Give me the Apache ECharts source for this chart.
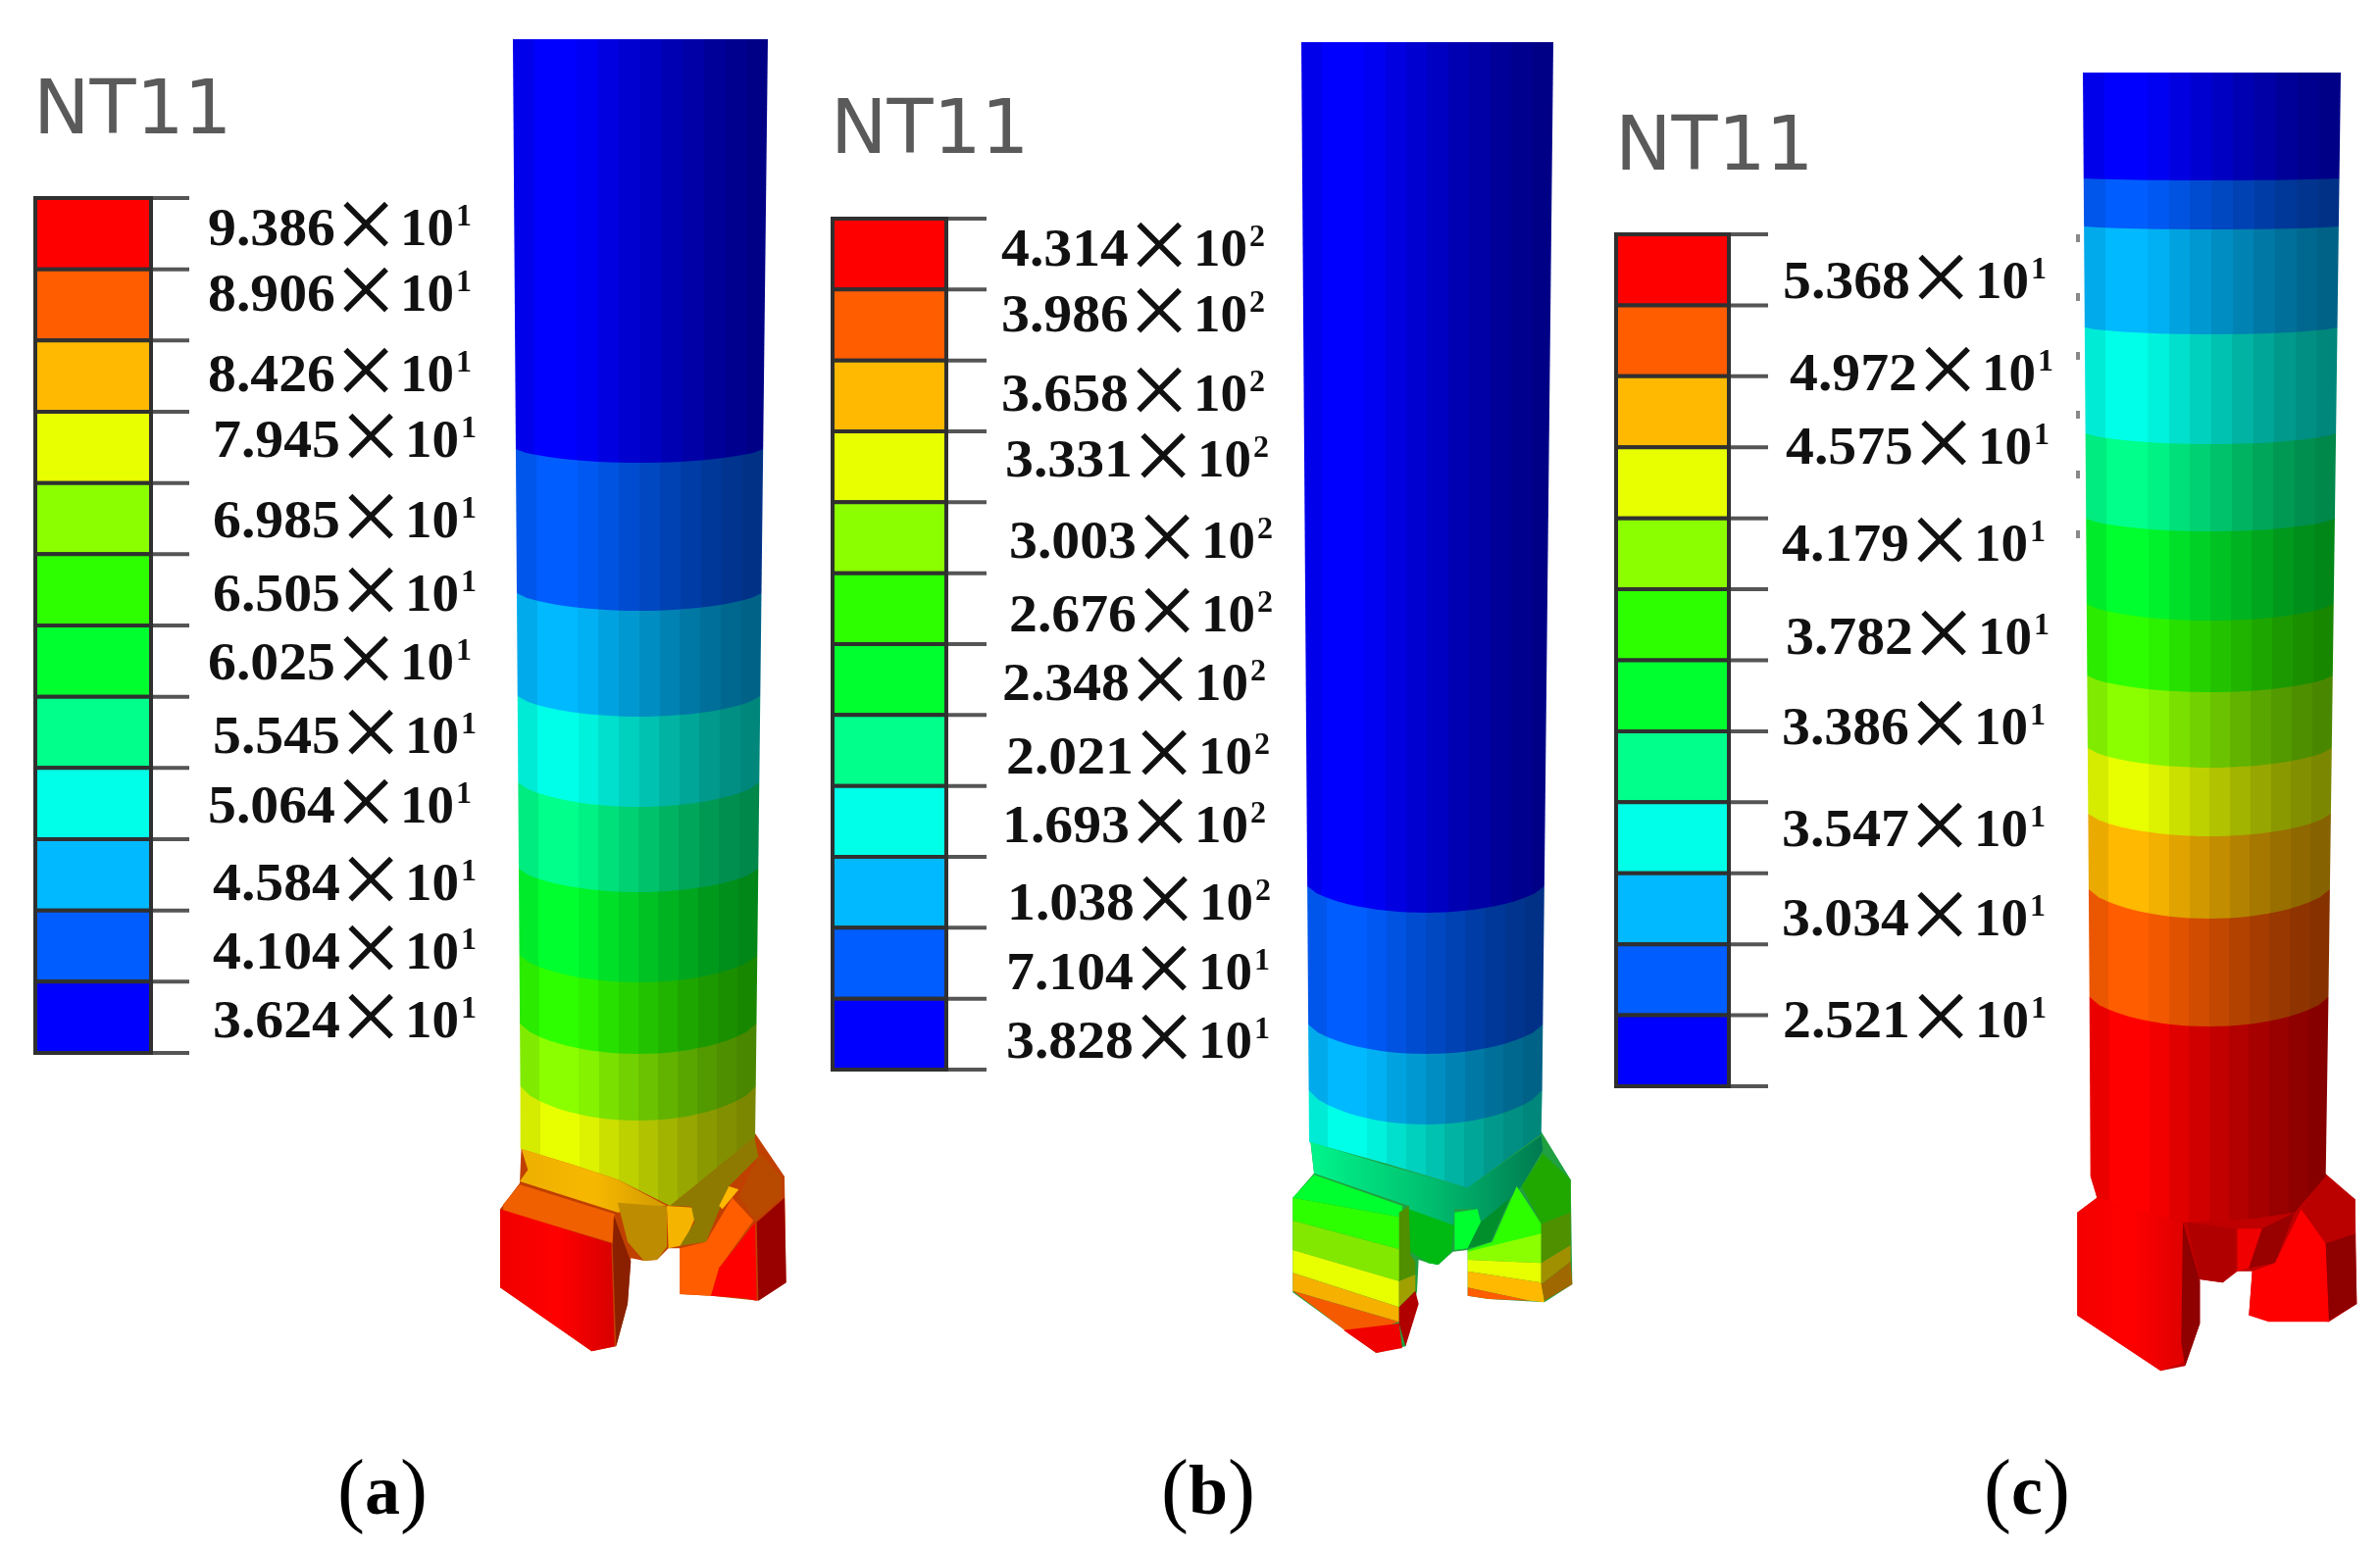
<!DOCTYPE html>
<html><head><meta charset="utf-8">
<script src="https://cdn.jsdelivr.net/npm/echarts@6/dist/echarts.min.js"></script>
<style>html,body{margin:0;background:#fff}#c{width:2427px;height:1580px;filter:blur(.7px)}</style></head>
<body><div id="c"></div>
<script>
// ---------- contour colours, hottest first ----------
const contourColors = ['#FF0000','#FF5D00','#FFB900','#E8FF00','#8BFF00','#2EFF00','#00FF2E','#00FF8B','#00FFE8','#00B9FF','#005DFF','#0000FF'];
// ---------- legend tick labels ----------
const mantissaA = ['9.386','8.906','8.426','7.945','6.985','6.505','6.025','5.545','5.064','4.584','4.104','3.624'];
const exponentA = ['1','1','1','1','1','1','1','1','1','1','1','1'];
const mantissaB = ['4.314','3.986','3.658','3.331','3.003','2.676','2.348','2.021','1.693','1.038','7.104','3.828'];
const exponentB = ['2','2','2','2','2','2','2','2','2','2','1','1'];
const mantissaC = ['5.368','4.972','4.575','4.179','3.782','3.386','3.547','3.034','2.521'];
const exponentC = ['1','1','1','1','1','1','1','1','1'];
const panelCaptions = ['a','b','c'];
const legendTitle = 'NT11';
// ---------- band boundaries read along each cylinder's left edge, top to bottom ----------
const bandEdgesA = [40,458,605,710,798,886,974,1044,1108];
const bandSagA   = [14,18,21,25,24,28,31,35];
const bandEdgesB = [43,904,1045,1112];
const bandSagB   = [27,30,35];
const bandEdgesC = [74,182,231,334,442,529,616,689,763,830,907,1017];
const bandSagC   = [2,3,7,11,13,17,17,20,23,30,30];

// ---------- layout (axis units equal page pixels) ----------
const legends = [
 {x0:36,x1:154,xt:193,top:202,bot:1074,tx:34,ty:116,man:mantissaA,exp:exponentA,
  lx:[212,212,212,217,217,217,212,217,212,217,217,217],
  ly:[236,303,385,452,534,609,679,754,825,904,974,1044]},
 {x0:849,x1:965,xt:1006,top:223,bot:1091,tx:847,ty:136,man:mantissaB,exp:exponentB,
  lx:[1021,1021,1021,1025,1029,1029,1022,1026,1022,1027,1026,1026],
  ly:[257,324,405,472,555,630,700,775,845,924,995,1065]},
 {x0:1648,x1:1763,xt:1803,top:239,bot:1108,tx:1647,ty:153,man:mantissaC,exp:exponentC,
  lx:[1818,1825,1821,1817,1821,1817,1817,1817,1818],
  ly:[290,384,459,558,653,745,849,940,1044]}
];
const cylinders = [
 {edges:bandEdgesA,sag:bandSagA,ytop:40,ybot:1170,l0:523,l1:531,r0:783,r1:770,first:11,
  origin:[480,1040],last:[[152,395],[300,440],[450,490],[610,570],[870,360]]},
 {edges:bandEdgesB,sag:bandSagB,ytop:43,ybot:1170,l0:1327,l1:1335,r0:1584,r1:1572,first:11,
  origin:[1280,1040],last:[[165,375],[400,440],[650,515],[875,350]]},
 {edges:bandEdgesC,sag:bandSagC,ytop:74,ybot:1200,l0:2124,l1:2132,r0:2387,r1:2372,first:11,
  origin:[2080,1040],last:[[155,480],[175,545],[300,590],[450,620],[650,610],[780,590],[875,480]]}
];
const underlays = [
 ['#C04000',[[90,580],[150,500],[155,385],[868,345],[960,480],[965,805],[880,860],[735,845],[640,840],[640,700],[605,700],[570,735],[530,738],[490,730],[480,870],[445,1000],[370,1015],[90,820]]],
 ['#20A040',[[115,545],[180,470],[168,365],[873,340],[965,490],[970,810],[885,865],[715,855],[650,845],[650,705],[605,710],[560,750],[530,745],[500,735],[495,830],[460,1000],[370,1020],[115,835]]],
 ['#C00000',[[115,590],[175,545],[158,470],[873,470],[965,550],[970,870],[885,925],[640,905],[650,770],[605,770],[560,805],[490,795],[490,930],[445,1060],[370,1075],[115,905]]]
];
const headA = [
 [['#EDB000','#F8B800','#D09A00'],[[155,395],[300,440],[450,490],[600,570],[450,590],[150,495],[175,460]]],
 ['#BD8C00',[[450,560],[600,572],[600,695],[570,735],[530,738],[480,680]]],
 ['#F5B400',[[600,570],[680,575],[685,610],[650,690],[605,700]]],
 ['#8E7A00',[[610,570],[868,360],[880,420],[790,510],[720,680],[640,692],[685,620],[675,572]]],
 ['#FFB900',[[790,510],[820,520],[770,580],[760,570]]],
 ['#F06000',[[100,565],[150,505],[440,595],[440,685],[100,585]]],
 [['#F00000','#FF0000','#D80000'],[[90,580],[430,685],[440,1000],[370,1015],[90,820]]],
 ['#8A2000',[[438,600],[490,740],[480,870],[445,1000],[434,690]]],
 ['#FF5D00',[[640,700],[720,680],[800,545],[865,615],[760,760],[735,845],[640,840]]],
 ['#FF0000',[[760,760],[870,620],[875,860],[835,852],[735,845]]],
 ['#990000',[[875,620],[960,545],[965,805],[880,860]]],
 ['#B84A00',[[820,540],[885,410],[950,480],[950,545],[870,615]]]
];
const headB = [
 [['#00F58A','#00C070','#007A50'],[[170,375],[400,445],[650,515],[875,355],[880,400],[815,510],[780,545],[720,680],[650,700],[690,620],[680,580],[610,580],[600,710],[560,750],[530,745],[480,700],[470,570],[180,470]]],
 ['#00BA14',[[470,580],[610,630],[600,710],[560,750],[530,745],[475,710]]],
 ['#00FF2E',[[610,590],[680,580],[690,620],[650,700],[610,705]]],
 ['#008F2A',[[690,620],[780,545],[720,680],[650,700]]],
 ['#00FF2E',[[115,545],[180,475],[450,570],[450,605]]],
 ['#2EFF00',[[115,545],[450,605],[450,705],[115,615]]],
 ['#82E800',[[115,615],[450,705],[440,800],[115,705]]],
 ['#E8FF00',[[115,705],[440,800],[440,880],[115,775]]],
 ['#F5B000',[[115,775],[440,880],[440,925],[115,830]]],
 ['#F55A00',[[115,830],[440,925],[410,935],[390,975],[280,955]]],
 ['#F00000',[[270,950],[440,930],[450,1005],[370,1020]]],
 ['#4F8F00',[[440,590],[470,570],[475,720],[490,740],[490,780],[440,800]]],
 ['#A0A000',[[440,800],[490,780],[490,830],[440,880]]],
 ['#B00000',[[440,880],[490,830],[500,870],[460,1000],[440,930]]],
 ['#2EFF00',[[650,705],[725,680],[800,510],[875,625],[875,670],[650,710]]],
 ['#8BFF00',[[650,710],[875,655],[875,745],[650,735]]],
 ['#E8FF00',[[650,735],[875,745],[875,805],[650,770]]],
 ['#FFB900',[[650,770],[875,805],[885,865],[840,860],[650,820]]],
 ['#FF5D00',[[650,820],[840,860],[715,855],[650,845]]],
 ['#20A800',[[815,510],[880,410],[965,490],[965,590],[875,625]]],
 ['#4F9000',[[875,625],[965,590],[965,690],[875,745]]],
 ['#A09000',[[875,745],[965,690],[965,740],[875,810]]],
 ['#A06800',[[875,810],[965,740],[970,810],[885,860]]]
];
const headC = [
 [['#F40000','#FF0000','#E00000'],[[115,590],[175,545],[440,620],[440,1050],[370,1075],[115,905]]],
 ['#8F0000',[[438,620],[490,800],[490,930],[445,1060],[433,990]]],
 ['#B00000',[[450,620],[600,640],[600,770],[560,805],[490,795]]],
 ['#F00000',[[605,640],[680,640],[680,700],[640,760],[605,770]]],
 ['#990000',[[680,640],[780,590],[720,745],[640,760]]],
 ['#FF0000',[[650,770],[720,745],[800,580],[875,685],[885,925],[700,925],[640,905]]],
 ['#8F0000',[[875,685],[965,655],[970,870],[885,920]]],
 ['#BB0000',[[800,580],[875,480],[965,550],[965,655],[875,685]]]
];
const heads = [headA,headB,headC];
const captionX = [390,1232,2067], captionY = 1525;
const facetShade = [.92,1,1,.95,.88,.82,.76,.7,.65,.6,.56,.53];
const specks = [[2119,243],[2119,303],[2119,363],[2119,423],[2119,484],[2119,545]];

// ---------- helpers ----------
function shadeHex(hex,f){
  const n=parseInt(hex.slice(1),16);
  return 'rgb('+[(n>>16)&255,(n>>8)&255,n&255].map(v=>Math.round(v*f)).join(',')+')';
}
function cylGradient(hex){
  const stops=[],n=facetShade.length;
  facetShade.forEach((f,i)=>{const c=shadeHex(hex,f);stops.push({offset:i/n,color:c},{offset:(i+1)/n,color:c});});
  return {type:'linear',x:0,y:0,x2:1,y2:0,colorStops:stops};
}
function facetFill(col){
  if(typeof col==='string')return col;
  return {type:'linear',x:0,y:0,x2:1,y2:0,colorStops:col.map((c,i)=>({offset:i/(col.length-1),color:c}))};
}
function customSeries(items,render){
  return {type:'custom',coordinateSystem:'cartesian2d',clip:false,silent:true,
    data:items.map((_,i)=>[i]),renderItem:(p,api)=>render(items[p.dataIndex],api)};
}
const poly=(pts,api,fill,extra)=>({type:'polygon',shape:{points:pts.map(q=>api.coord(q))},style:Object.assign({fill},extra||{})});

// ---------- cylinder bands: bottom band painted first, upper ones overlap ----------
const bandItems=[];
cylinders.forEach(c=>{
  const n=c.edges.length-1;
  const L=y=>c.l0+(c.l1-c.l0)*(y-c.ytop)/(c.ybot-c.ytop);
  const R=y=>c.r0+(c.r1-c.r0)*(y-c.ytop)/(c.ybot-c.ytop);
  const toData=q=>[c.origin[0]+q[0]/3,c.origin[1]+q[1]/3];
  const lastPts=c.last.map(toData);
  const lastTop=c.edges[n];
  bandItems.push({col:contourColors[c.first-n],pts:[[L(lastTop),lastTop],[R(lastTop),lastTop]].concat(lastPts.slice().reverse())});
  for(let i=n-1;i>=0;i--){
    const y0=c.edges[i],y1=c.edges[i+1],s=c.sag[i],pts=[[L(y0),y0],[R(y0),y0]];
    const K=24;
    for(let k=K;k>=0;k--){
      const x=L(y1)+(R(y1)-L(y1))*k/K,t=2*k/K-1;
      pts.push([x,y1+s*Math.pow(1-t*t,.7)]);
    }
    bandItems.push({col:contourColors[c.first-i],pts});
  }
});
// ---------- head facets ----------
const facetItems=[],underItems=[];
cylinders.forEach((c,ci)=>{
  const toData=q=>[c.origin[0]+q[0]/3,c.origin[1]+q[1]/3];
  underItems.push({col:underlays[ci][0],pts:underlays[ci][1].map(toData)});
  heads[ci].forEach(f=>facetItems.push({col:f[0],pts:f[1].map(toData)}));
});
// ---------- legend cells/ticks/labels ----------
const cellItems=[],tickItems=[],labelItems=[],titleItems=[];
legends.forEach(l=>{
  const st=(l.bot-l.top)/12;
  contourColors.forEach((col,i)=>cellItems.push({col,x0:l.x0,x1:l.x1,y0:l.top+i*st,y1:l.top+(i+1)*st}));
  for(let i=0;i<=12;i++)tickItems.push({x0:l.x1,x1:l.xt,y:l.top+i*st});
  l.man.forEach((m,i)=>labelItems.push({m,e:l.exp[i],x:l.lx[i],y:l.ly[i]}));
  titleItems.push({x:l.tx,y:l.ty});
});

const option={
  animation:false,backgroundColor:'#fff',
  grid:{left:0,right:0,top:0,bottom:0},
  xAxis:{type:'value',min:0,max:2427,show:false},
  yAxis:{type:'value',min:0,max:1580,inverse:true,show:false},
  series:[
    customSeries(underItems,(f,api)=>poly(f.pts,api,f.col)),
    customSeries(bandItems,(b,api)=>poly(b.pts,api,cylGradient(b.col))),
    customSeries(facetItems,(f,api)=>poly(f.pts,api,facetFill(f.col))),
    customSeries(tickItems,(t,api)=>{const a=api.coord([t.x0,t.y]),b=api.coord([t.x1,t.y]);
      return {type:'line',shape:{x1:a[0],y1:a[1],x2:b[0],y2:b[1]},style:{stroke:'#555',lineWidth:4}};}),
    customSeries(cellItems,(c,api)=>{const a=api.coord([c.x0,c.y0]),b=api.coord([c.x1,c.y1]);
      return {type:'rect',shape:{x:a[0],y:a[1],width:b[0]-a[0],height:b[1]-a[1]},style:{fill:c.col,stroke:'#303030',lineWidth:4}};}),
    customSeries(titleItems,(t,api)=>{const a=api.coord([t.x,t.y]);
      return {type:'text',x:a[0],y:a[1],style:{text:legendTitle,font:'77px "DejaVu Sans"',fill:'#5a5a5a',textAlign:'left',textVerticalAlign:'middle'}};}),
    customSeries(labelItems,(l,api)=>{const a=api.coord([l.x,l.y]);
      const tx=(text,dx,dy,font,align)=>({type:'text',x:a[0]+dx,y:a[1]+dy,style:{text,font,fill:'#111',textAlign:align||'left',textVerticalAlign:'middle'}});
      return {type:'group',children:[
        Object.assign(tx(l.m,0,0,'bold 55px "Liberation Serif"'),{scaleX:1.05}),
        tx('\u00D7',161,1,'112px "Liberation Serif"','center'),
        tx('10',196,0,'bold 55px "Liberation Serif"'),
        tx(l.e,253,-14,'bold 32px "Liberation Serif"')
      ]};}),
    customSeries(panelCaptions,(t,api)=>{const i=panelCaptions.indexOf(t),a=api.coord([captionX[i],captionY]);
      return {type:'text',x:a[0],y:a[1],style:{text:'{p|(}{b|'+t+'}{p|)}',textAlign:'center',textVerticalAlign:'middle',
        rich:{p:{font:'84px "Liberation Serif"',fill:'#000'},b:{font:'bold 72px "Liberation Serif"',fill:'#000'}}}};}),
    customSeries(specks,(s,api)=>{const a=api.coord(s);
      return {type:'rect',shape:{x:a[0]-2,y:a[1]-4,width:4,height:8},style:{fill:'#888'}};})
  ]
};
echarts.init(document.getElementById('c'),null,{renderer:'canvas'}).setOption(option);
</script></body></html>
